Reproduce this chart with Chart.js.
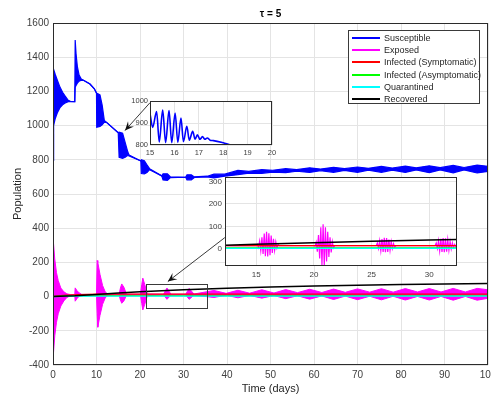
<!DOCTYPE html>
<html><head><meta charset="utf-8">
<script src="https://cdn.jsdelivr.net/npm/chart.js@4/dist/chart.umd.min.js"></script>
<style>
html,body{margin:0;padding:0;background:#fff;}
#wrap{position:relative;width:491px;height:396px;overflow:hidden;font-family:"Liberation Sans",Arial,sans-serif;}
canvas{position:absolute;}
#main{left:0;top:0;}
#ins1{left:118px;top:95px;}
#ins2{left:193px;top:172px;}
#legend{position:absolute;left:348px;top:30px;width:132px;height:74px;border:1px solid #3a3a3a;background:#fff;box-sizing:border-box;padding-top:1px;}
.row{height:12.2px;display:flex;align-items:center;font-size:9px;color:#262626;white-space:nowrap;}
.sw{width:28px;height:2px;margin-left:3px;margin-right:4px;flex:none;}
</style></head>
<body>
<div id="wrap">
<canvas id="main" width="491" height="396"></canvas>
<canvas id="ins1" width="160" height="65"></canvas>
<canvas id="ins2" width="270" height="112"></canvas>
<div id="legend"></div>
</div>
<script>
// ---------- DATA ----------
const seriesNames = ['Susceptible','Exposed','Infected (Symptomatic)','Infected (Asymptomatic)','Quarantined','Recovered'];
const seriesColors = ['#0000ff','#ff00ff','#ff0000','#00ff00','#00ffff','#000000'];
const chartTitle = 'τ = 5';

// Susceptible: envelope of the fast oscillation (upper / lower)
const sTime = [0,0.12,0.5,1.0,1.6,2.2,2.8,3.5,4.0,5.0,5.1,5.3,5.6,6.0,6.5,7.0,8.5,9.5,10.0,10.05,10.8,11.3,11.8,12.3,15.0,15.2,16.0,16.6,17.2,17.5,20.2,20.3,21.0,21.6,22.2,25.0,25.3,26.3,27.0,30.5,30.8,31.8,32.5,35.5,37.0,39.5,42.5,45.0,48.0,50.5,53.5,56.0,59.0,61.5,64.5,67.0,70.0,72.5,75.5,78.0,81.0,83.5,86.5,89.0,92.0,94.5,97.5,100];
const sHigh = [795,1330,1300,1265,1225,1195,1172,1148,1142,1140,1500,1420,1345,1295,1272,1265,1243,1215,1190,1190,1180,1120,1030,1019,958,962,955,900,845,828,793,800,795,770,748,706,718,718,700,698,712,712,700,704,716,716,738,732,742,739,748,742,753,746,756,748,758,750,761,752,763,753,765,754,767,755,769,762];
const sLow  = [795,1000,1040,1075,1105,1122,1132,1140,1140,1140,1225,1235,1248,1260,1266,1265,1243,1215,1190,990,995,1005,1020,1019,958,815,808,815,826,822,793,720,718,725,742,706,682,680,696,698,683,683,697,700,694,704,713,722,721,728,725,733,726,736,727,738,727,739,727,740,726,741,725,741,724,741,723,732];

// Exposed: envelope of the fast oscillation (upper / lower)
const eTime = [0,0.1,0.4,0.8,1.2,1.8,2.5,3.2,4.0,5.0,5.1,5.5,6.0,6.6,10.0,10.15,10.3,10.8,11.4,12.0,12.6,15.2,15.5,15.8,16.3,16.9,20.1,20.4,20.65,21.1,21.7,25.4,26.2,27.1,30.5,31.3,32.4,37.0,39.8,42.5,45.2,48.0,50.8,53.5,56.2,59.0,61.8,64.5,67.2,70.0,72.8,75.5,78.2,81.0,83.8,86.5,89.2,92.0,94.8,97.5,100];
const eHigh = [0,318,220,140,94,50,28,16,12,12,51,35,22,13,12,211,200,130,65,28,14,14,50,74,55,14,14,70,108,70,15,14,50,14,14,48,15,36,19,37,20,40,21,41,23,43,24,44,25,45,26,46,26,47,27,47,27,48,27,48,40];
const eLow  = [0,-335,-230,-150,-100,-55,-25,-5,5,10,-27,-12,2,9,10,-100,-179,-110,-45,-8,8,10,-20,-39,-25,8,10,-40,-78,-45,6,10,-16,8,10,-16,8,-5,8,-7,7,-9,6,-12,5,-15,4,-17,3,-18,2,-19,2,-20,1,-20,1,-21,1,-21,-10];

const symTime  = [0,1,3,6,10,20,100];
const symVal   = [0,5,9,12,14,15,15];
const asymTime = [0,2,10,100];
const asymVal  = [0,3,5,5];
const quarTime = [0,5,100];
const quarVal  = [0,2,3];
const recTime  = [0,5,10,15,20,25,30,35,40,50,60,70,80,90,100];
const recVal   = [0,5,13,21,28,34,40,45,49,56,62,67,71,74,77];

// Inset 1: Susceptible detail, t = 15..20
const sZoomTime = [15.0,15.11,15.27,15.38,15.52,15.64,15.78,15.89,16.03,16.14,16.27,16.37,16.51,16.61,16.75,16.85,16.94,17.05,17.15,17.25,17.35,17.46,17.6,18.0,18.3,18.6];
const sZoomVal  = [943,880,952,814,959,811,957,811,945,812,922,815,885,822,862,826,846,826,838,826,832,822,820,810,800,793];

// Inset 2: Exposed detail, t = 12.3..32.4
const eZoomTime = [12.3,15.0,15.1,15.2,15.3,15.4,15.5,15.6,15.7,15.8,15.9,16.0,16.1,16.2,16.3,16.4,16.5,16.6,16.7,16.8,16.9,17.0,
  20.0,20.1,20.2,20.3,20.4,20.5,20.6,20.7,20.8,20.9,21.0,21.1,21.2,21.3,21.4,21.5,21.6,21.7,21.8,
  25.4,25.5,25.6,25.7,25.8,25.9,26.0,26.1,26.2,26.3,26.4,26.5,26.6,26.7,26.8,26.9,27.0,27.1,
  30.5,30.6,30.7,30.8,30.9,31.0,31.1,31.2,31.3,31.4,31.5,31.6,31.7,31.8,31.9,32.0,32.1,32.2,32.3,32.4];
const eZoomVal  = [14,14,20,6,35,-8,52,-22,68,-32,76,-34,70,-28,60,-18,45,-6,32,4,20,14,
  14,12,30,-12,62,-42,96,-72,110,-74,96,-56,76,-36,52,-16,32,4,14,
  14,26,2,36,-8,44,-13,50,-15,48,-13,42,-6,33,2,23,8,14,
  14,26,2,37,-9,45,-14,48,-15,47,-12,41,-6,33,0,26,6,20,10,16];

// axis ranges and tick labels
const mainXRange = [0, 100],    mainXTicks = [0,10,20,30,40,50,60,70,80,90,100];
const mainYRange = [-400, 1600], mainYTicks = [-400,-200,0,200,400,600,800,1000,1200,1400,1600];
const ins1XRange = [15, 20],    ins1XTicks = [15,16,17,18,19,20];
const ins1YRange = [800, 1000], ins1YTicks = [800,900,1000];
const ins2XRange = [12.3, 32.4], ins2XTicks = [15,20,25,30];
const ins2YRange = [-76, 320],  ins2YTicks = [0,100,200,300];

// annotation: zoom box and arrows (data coordinates of main axes)
const zoomBox = {t0:21.4, t1:35.4, v0:-64, v1:76};
const arrowsData = [
  {from:[22.3,1134], to:[16.55,971]},
  {from:[39.5,345], to:[26.4,88]}
];

// ---------- HELPERS ----------
const pts = (t, v) => t.map((x, i) => ({x: x, y: v[i]}));
const FONT = "'Liberation Sans', Arial, Helvetica, sans-serif";
Chart.defaults.font.family = FONT;
const GRID = '#e4e4e4';
const TICKC = '#404040';

const framePlugin = {
  id: 'frame',
  beforeDraw(chart, args, opts) {
    if (!opts.fill) return;
    const {ctx, chartArea: a} = chart;
    ctx.save(); ctx.fillStyle = '#fff';
    ctx.fillRect(a.left, a.top, a.right - a.left, a.bottom - a.top);
    ctx.restore();
  },
  afterDraw(chart) {
    const {ctx, chartArea: a} = chart;
    ctx.save(); ctx.strokeStyle = '#2b2b2b'; ctx.lineWidth = 1;
    const l = Math.round(a.left) + 0.5, t = Math.round(a.top) + 0.5;
    ctx.strokeRect(l, t, Math.round(a.right) - Math.round(a.left) - 1, Math.round(a.bottom) - Math.round(a.top) - 1);
    ctx.restore();
  }
};

function arrowHead(ctx, x0, y0, x1, y1) {
  const ang = Math.atan2(y1 - y0, x1 - x0), L = 9, W = 4;
  const bx = x1 - L * Math.cos(ang), by = y1 - L * Math.sin(ang);
  const nx = -Math.sin(ang), ny = Math.cos(ang);
  const mx = x1 - L * 0.6 * Math.cos(ang), my = y1 - L * 0.6 * Math.sin(ang);
  ctx.beginPath();
  ctx.moveTo(x1, y1);
  ctx.lineTo(bx + nx * W, by + ny * W);
  ctx.lineTo(mx, my);
  ctx.lineTo(bx - nx * W, by - ny * W);
  ctx.closePath(); ctx.fill();
}

const annotPlugin = {
  id: 'annot',
  afterDraw(chart) {
    const {ctx} = chart, xs = chart.scales.x, ys = chart.scales.y;
    ctx.save();
    ctx.strokeStyle = '#3a3a3a'; ctx.fillStyle = '#111'; ctx.lineWidth = 1;
    const x0 = Math.round(xs.getPixelForValue(zoomBox.t0)) + 0.5, x1 = Math.round(xs.getPixelForValue(zoomBox.t1)) + 0.5;
    const y0 = Math.round(ys.getPixelForValue(zoomBox.v1)) + 0.5, y1 = Math.round(ys.getPixelForValue(zoomBox.v0)) + 0.5;
    ctx.strokeRect(x0, y0, x1 - x0, y1 - y0);
    arrowsData.forEach(a => {
      const ax = xs.getPixelForValue(a.from[0]), ay = ys.getPixelForValue(a.from[1]);
      const bx = xs.getPixelForValue(a.to[0]), by = ys.getPixelForValue(a.to[1]);
      ctx.beginPath(); ctx.moveTo(ax, ay); ctx.lineTo(bx, by); ctx.stroke();
      arrowHead(ctx, ax, ay, bx, by);
    });
    ctx.restore();
  }
};

function lineDs(data, color, width, order, extra) {
  return Object.assign({data: data, borderColor: color, backgroundColor: color, borderWidth: width,
    pointRadius: 0, tension: 0, fill: false, order: order}, extra || {});
}

function axis(range, tickVals, size, pad, extra) {
  return Object.assign({
    type: 'linear', min: range[0], max: range[1],
    afterBuildTicks(s) { s.ticks = tickVals.map(v => ({value: v})); },
    ticks: {padding: pad, color: TICKC, font: {size: size}, maxRotation: 0, autoSkip: false,
      callback: v => String(v)},
    grid: {color: GRID, drawTicks: false},
    border: {display: false}
  }, extra || {});
}

// ---------- MAIN CHART ----------
new Chart(document.getElementById('main'), {
  type: 'line',
  data: {datasets: [
    lineDs(pts(sTime, sHigh), seriesColors[0], 1.2, 10),
    lineDs(pts(sTime, sLow), seriesColors[0], 1.2, 10, {fill: '-1'}),
    lineDs(pts(eTime, eHigh), seriesColors[1], 1, 9),
    lineDs(pts(eTime, eLow), seriesColors[1], 1, 9, {fill: '-1'}),
    lineDs(pts(symTime, symVal), seriesColors[2], 1.2, 4),
    lineDs(pts(asymTime, asymVal), seriesColors[3], 1.2, 3),
    lineDs(pts(quarTime, quarVal), seriesColors[4], 1.2, 2),
    lineDs(pts(recTime, recVal), seriesColors[5], 1.5, 1)
  ]},
  options: {
    responsive: false, animation: false, events: [],
    layout: {padding: {left: 0, right: 3, top: 0, bottom: 0}},
    plugins: {
      legend: {display: false}, tooltip: {enabled: false},
      title: {display: true, text: chartTitle, fullSize: false, color: '#000',
        font: {size: 10, weight: 'bold'}, padding: {top: 8, bottom: 3}},
      frame: {fill: false}
    },
    scales: {
      x: axis(mainXRange, mainXTicks, 10, 4, {
        title: {display: true, text: 'Time (days)', color: '#262626', font: {size: 11}, padding: {top: 0, bottom: 0}},
        afterFit(s) { s.height = 31; s.paddingLeft = 0; s.paddingRight = 0; }
      }),
      y: axis(mainYRange, mainYTicks, 10, 4, {
        title: {display: true, text: 'Population', color: '#262626', font: {size: 11}, padding: {top: 11, bottom: 0}},
        afterFit(s) { s.width = 53; s.paddingTop = 0; s.paddingBottom = 0; }
      })
    }
  },
  plugins: [framePlugin, annotPlugin]
});

// ---------- INSET 1 ----------
new Chart(document.getElementById('ins1'), {
  type: 'line',
  data: {datasets: [lineDs(pts(sZoomTime, sZoomVal), seriesColors[0], 1.6, 1, {cubicInterpolationMode: 'monotone'})]},
  options: {
    responsive: false, animation: false, events: [],
    layout: {padding: {left: 0, right: 6, top: 6, bottom: 0}},
    plugins: {legend: {display: false}, tooltip: {enabled: false}, frame: {fill: true}},
    scales: {
      x: axis(ins1XRange, ins1XTicks, 7.5, 3, {afterFit(s) { s.height = 15; s.paddingLeft = 0; s.paddingRight = 0; }}),
      y: axis(ins1YRange, ins1YTicks, 7.5, 2, {afterFit(s) { s.width = 32; s.paddingTop = 0; s.paddingBottom = 0; }})
    }
  },
  plugins: [framePlugin]
});

// ---------- INSET 2 ----------
new Chart(document.getElementById('ins2'), {
  type: 'line',
  data: {datasets: [
    lineDs(pts(eZoomTime, eZoomVal), seriesColors[1], 1.2, 9),
    lineDs(pts(symTime, symVal), seriesColors[2], 1.2, 4),
    lineDs(pts(asymTime, asymVal), seriesColors[3], 1.2, 3),
    lineDs(pts(quarTime, quarVal), seriesColors[4], 1.2, 2),
    lineDs(pts(recTime, recVal), seriesColors[5], 1.5, 1)
  ]},
  options: {
    responsive: false, animation: false, events: [],
    layout: {padding: {left: 0, right: 6, top: 5, bottom: 0}},
    plugins: {legend: {display: false}, tooltip: {enabled: false}, frame: {fill: true}},
    scales: {
      x: axis(ins2XRange, ins2XTicks, 8, 4, {afterFit(s) { s.height = 18; s.paddingLeft = 0; s.paddingRight = 0; }}),
      y: axis(ins2YRange, ins2YTicks, 8, 3, {afterFit(s) { s.width = 32; s.paddingTop = 0; s.paddingBottom = 0; }})
    }
  },
  plugins: [framePlugin]
});

// ---------- LEGEND ----------
const lg = document.getElementById('legend');
seriesNames.forEach((n, i) => {
  const r = document.createElement('div'); r.className = 'row';
  const sw = document.createElement('span'); sw.className = 'sw'; sw.style.background = seriesColors[i];
  const tx = document.createElement('span'); tx.textContent = n;
  r.appendChild(sw); r.appendChild(tx); lg.appendChild(r);
});
</script>
</body></html>
